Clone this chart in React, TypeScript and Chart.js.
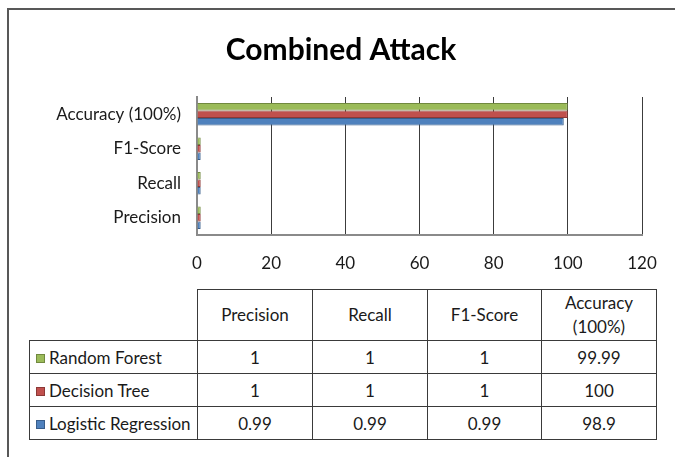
import React, { useEffect, useRef } from "react";
import { Chart, registerables } from "chart.js";

Chart.register(...registerables);

const titleText = "Combined Attack";
const categories = ["Precision", "Recall", "F1-Score", "Accuracy (100%)"];
const seriesNames = ["Random Forest", "Decision Tree", "Logistic Regression"];
const randomForest = [1, 1, 1, 99.99];
const decisionTree = [1, 1, 1, 100];
const logisticRegression = [0.99, 0.99, 0.99, 98.9];
const seriesColors = ["#9BBB59", "#C0504D", "#4F81BD"];
const seriesBorders = ["#71893F", "#8C3836", "#385D8A"];
const xMin = 0;
const xMax = 120;
const xStep = 20;

const seriesValues = [randomForest, decisionTree, logisticRegression];

const FONT = "Lato, 'Noto Sans', sans-serif";
const TEXT = "#1a1a1a";
const LABEL_SIZE = 17;

export default function App() {
  const canvasRef = useRef<HTMLCanvasElement | null>(null);

  useEffect(() => {
    const canvas = canvasRef.current;
    if (!canvas) return;
    const chart = new Chart(canvas, {
      type: "bar",
      data: {
        labels: categories,
        datasets: seriesNames.map((name, i) => ({
          label: name,
          data: seriesValues[i],
          backgroundColor: seriesColors[i],
          borderColor: seriesBorders[i],
          borderWidth: 1,
          categoryPercentage: 0.65,
          barPercentage: 1,
        })),
      },
      options: {
        indexAxis: "y",
        responsive: false,
        animation: false,
        layout: { padding: { left: 40, right: 33, top: 0, bottom: 10 } },
        plugins: {
          legend: { display: false },
          tooltip: { enabled: false },
          title: {
            display: true,
            text: titleText,
            color: "#000",
            font: { family: FONT, size: 30, weight: "bold", lineHeight: 1.2 },
            padding: { top: 32, bottom: 29 },
          },
        },
        scales: {
          x: {
            type: "linear",
            min: xMin,
            max: xMax,
            ticks: {
              stepSize: xStep,
              color: TEXT,
              padding: 18,
              font: { family: FONT, size: LABEL_SIZE },
            },
            grid: {
              drawTicks: false,
              color: (ctx: any) => (ctx.tick && ctx.tick.value === 0 ? "rgba(0,0,0,0)" : "#3c3c3c"),
              lineWidth: 1,
            },
            border: { display: true, color: "#8a8a8a", width: 2 },
            afterFit: (scale: any) => {
              scale.height = 40;
            },
          },
          y: {
            type: "category",
            reverse: true,
            ticks: {
              color: TEXT,
              padding: 16,
              font: { family: FONT, size: LABEL_SIZE },
            },
            grid: { display: false, drawTicks: false },
            border: { display: true, color: "#8a8a8a", width: 2 },
            afterFit: (scale: any) => {
              scale.width = 157;
            },
          },
        },
      },
    });
    return () => chart.destroy();
  }, []);

  const cellBorder = "1px solid #3a3a3a";
  const colWidths = [168, 115, 115, 114, 115];

  return (
    <div
      style={{
        position: "fixed",
        left: 0,
        top: 0,
        width: 675,
        height: 457,
        background: "#fff",
        overflow: "hidden",
        fontFamily: FONT,
      }}
    >
      <div
        style={{
          position: "absolute",
          left: 7,
          top: 8,
          width: 720,
          height: 500,
          borderTop: "2px solid #585858",
          borderLeft: "2px solid #585858",
        }}
      />
      <canvas
        ref={canvasRef}
        width={675}
        height={285}
        style={{ position: "absolute", left: 0, top: 0, width: 675, height: 285 }}
      />
      <table
        style={{
          position: "absolute",
          left: 29,
          top: 289,
          borderCollapse: "collapse",
          tableLayout: "fixed",
          width: colWidths.reduce((a, b) => a + b, 0),
          fontFamily: FONT,
          fontSize: LABEL_SIZE,
          color: TEXT,
        }}
      >
        <colgroup>
          {colWidths.map((w, i) => (
            <col key={i} style={{ width: w }} />
          ))}
        </colgroup>
        <tbody>
          <tr style={{ height: 51 }}>
            <td
              style={{
                borderTop: "none",
                borderLeft: "none",
                borderRight: cellBorder,
                borderBottom: cellBorder,
                padding: 0,
              }}
            />
            {categories.map((c) => (
              <td
                key={c}
                style={{
                  border: cellBorder,
                  textAlign: "center",
                  verticalAlign: "middle",
                  padding: "0 12px",
                  lineHeight: "24px",
                }}
              >
                {c}
              </td>
            ))}
          </tr>
          {seriesNames.map((name, i) => (
            <tr key={name} style={{ height: 33 }}>
              <td
                style={{
                  border: cellBorder,
                  padding: "0 0 0 6px",
                  whiteSpace: "nowrap",
                  verticalAlign: "middle",
                }}
              >
                <span
                  style={{
                    display: "inline-block",
                    width: 7,
                    height: 7,
                    background: seriesColors[i],
                    border: `1px solid ${seriesBorders[i]}`,
                    marginRight: 4,
                    verticalAlign: "1px",
                  }}
                />
                {name}
              </td>
              {seriesValues[i].map((v, j) => (
                <td
                  key={j}
                  style={{
                    border: cellBorder,
                    textAlign: "center",
                    verticalAlign: "middle",
                    padding: 0,
                  }}
                >
                  {String(v)}
                </td>
              ))}
            </tr>
          ))}
        </tbody>
      </table>
    </div>
  );
}
